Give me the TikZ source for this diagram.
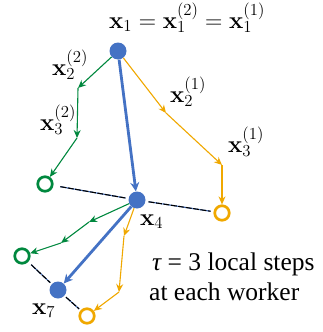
\RequirePackage{fix-cm}
\documentclass[tikz,border=0pt]{standalone}
\usepackage[no-math]{fontspec}
\newfontfamily\timesfont{Liberation Serif}
\usetikzlibrary{arrows.meta}
\definecolor{cblue}{RGB}{68,114,196}
\definecolor{cgreen}{RGB}{0,136,62}
\definecolor{corange}{RGB}{240,168,0}
\tikzset{
  solid node/.style={circle, fill=cblue, draw=none, minimum size=17pt, inner sep=0pt},
  gring/.style={circle, draw=cgreen, line width=2.7pt, fill=white, minimum size=14.5pt, inner sep=0pt},
  oring/.style={circle, draw=corange, line width=2.7pt, fill=white, minimum size=14.5pt, inner sep=0pt},
  garrow/.style={draw=cgreen, line width=1.1pt, -{Stealth[length=8pt,width=7pt]}},
  oarrow/.style={draw=corange, line width=1.1pt, -{Stealth[length=8pt,width=7pt]}},
  barrow/.style={draw=cblue, line width=2.8pt, -{Stealth[length=9pt,width=9pt]}},
  lbl/.style={inner sep=0pt, anchor=base west, font=\fontsize{24}{29}\selectfont},
  tlbl/.style={inner sep=0pt, anchor=base west, font=\fontsize{25.5}{30}\selectfont\timesfont},
  avgline/.style={draw=cblue, line width=1.1pt},
  avgdash/.style={draw=black, line width=1.1pt, dash pattern=on 6pt off 1.5pt},
}
\begin{document}
\begin{tikzpicture}[x=1pt, y=-1pt]
\useasboundingbox (0,0) rectangle (323,332);
% nodes
\node[solid node] (x1) at (118,51) {};
\node[solid node] (x4) at (137,200) {};
\node[solid node] (x7) at (58,290) {};
\node[gring] (G1) at (45,184) {};
\node[oring] (O1) at (222,213) {};
\node[gring] (G2) at (22,256) {};
\node[oring] (O2) at (87,316) {};
\coordinate (g1) at (78,88);
\coordinate (g2) at (77,138);
\coordinate (o1) at (166,113);
\coordinate (o2) at (222,165);
\coordinate (g3) at (89,222);
\coordinate (g4) at (61,243);
\coordinate (o3) at (124,236);
\coordinate (o4) at (119,292);
% averaging lines
\draw[avgline, shorten <=7pt, shorten >=3pt] (G1) -- (x4);
\draw[avgdash, shorten <=7pt, shorten >=3pt] (G1) -- (x4);
\draw[avgline, shorten <=3pt, shorten >=3pt] (x4) -- (O1);
\draw[avgdash, shorten <=3pt, shorten >=3pt] (x4) -- (O1);
\draw[avgline, shorten <=4pt, shorten >=2pt] (G2) -- (x7);
\draw[avgdash, shorten <=4pt, shorten >=2pt] (G2) -- (x7);
\draw[avgline, shorten <=2pt, shorten >=2pt] (x7) -- (O2);
\draw[avgdash, shorten <=2pt, shorten >=2pt] (x7) -- (O2);
% worker 2 (green), round 1
\draw[garrow] (x1) -- (g1);
\draw[garrow] (g1) -- (g2);
\draw[garrow] (g2) -- (G1);
% worker 1 (orange), round 1
\draw[oarrow] (x1) -- (o1);
\draw[oarrow] (o1) -- (o2);
\draw[oarrow] (o2) -- (O1);
% round 2
\draw[garrow] (x4) -- (g3);
\draw[garrow] (g3) -- (g4);
\draw[garrow] (g4) -- (G2);
\draw[oarrow] (x4) -- (o3);
\draw[oarrow] (o3) -- (o4);
\draw[oarrow] (o4) -- (O2);
% global steps
\draw[barrow] (x1) -- (x4);
\draw[barrow] (x4) -- (x7);
% labels
\node[lbl] (l1) at (109,28) {$\mathbf{x}_1=\mathbf{x}_1^{(2)}=\mathbf{x}_1^{(1)}$};
\node[lbl] (l22) at (52,75) {$\mathbf{x}_2^{(2)}$};
\node[lbl] (l32) at (40,130) {$\mathbf{x}_3^{(2)}$};
\node[lbl] (l21) at (170,102) {$\mathbf{x}_2^{(1)}$};
\node[lbl] (l31) at (228,152) {$\mathbf{x}_3^{(1)}$};
\node[lbl] (l4) at (140,225) {$\mathbf{x}_4$};
\node[lbl] (l7) at (32,314) {$\mathbf{x}_7$};
\node[tlbl] (t1) at (152,270) {\itshape τ\upshape{} = 3 local steps};
\node[tlbl] (t2) at (149,300) {at each worker};
\end{tikzpicture}
\end{document}
